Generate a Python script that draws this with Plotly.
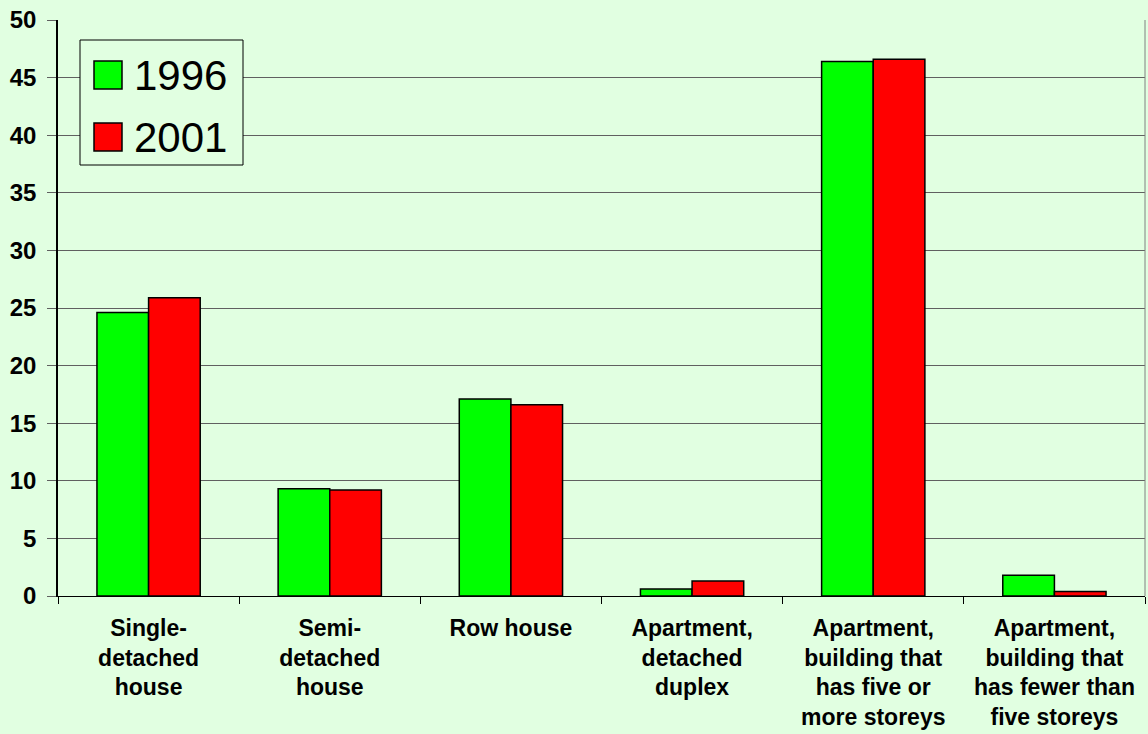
import plotly.graph_objects as go

categories = [
    "Single-<br>detached<br>house",
    "Semi-<br>detached<br>house",
    "Row house",
    "Apartment,<br>detached<br>duplex",
    "Apartment,<br>building that<br>has five or<br>more storeys",
    "Apartment,<br>building that<br>has fewer than<br>five storeys",
]
series_names = ["1996", "2001"]
values_1996 = [24.6, 9.3, 17.1, 0.6, 46.4, 1.8]
values_2001 = [25.9, 9.2, 16.6, 1.3, 46.6, 0.4]
colors = ["#00FF00", "#FF0000"]
y_ticks = [0, 5, 10, 15, 20, 25, 30, 35, 40, 45, 50]

W, H = 1148, 734
L, R, T, B = 58, 3, 20, 138
PW, PH = W - L - R, H - T - B
BG = "#E1FFE1"
FONT = "Liberation Sans, Arial, sans-serif"


def px_x(p):
    return (p - L) / PW


def px_y(p):
    return (H - B - p) / PH


fig = go.Figure()
for name, vals, col in zip(series_names, [values_1996, values_2001], colors):
    fig.add_trace(go.Bar(
        name=name, x=categories, y=vals,
        marker=dict(color=col, line=dict(color="#000000", width=1.5)),
        showlegend=False,
    ))

shapes = [
    # right border of plot area
    dict(type="line", xref="paper", yref="paper", x0=1, x1=1, y0=0, y1=1,
         line=dict(color="#808080", width=1)),
    # legend box
    dict(type="rect", xref="paper", yref="paper",
         x0=px_x(80), x1=px_x(243), y0=px_y(165), y1=px_y(40),
         line=dict(color="#000000", width=1), fillcolor=BG, layer="above"),
]
annotations = []
legend_rows = [(61, 89, 75), (123, 151, 137)]
for (top, bot, mid), name, col in zip(legend_rows, series_names, colors):
    shapes.append(dict(type="rect", xref="paper", yref="paper",
                       x0=px_x(94), x1=px_x(122), y0=px_y(bot), y1=px_y(top),
                       line=dict(color="#000000", width=1.5), fillcolor=col, layer="above"))
    annotations.append(dict(xref="paper", yref="paper", x=px_x(132), y=px_y(mid),
                            xanchor="left", yanchor="middle", text=name, showarrow=False,
                            font=dict(family=FONT, size=42, color="#000000")))

fig.update_layout(
    width=W, height=H,
    margin=dict(l=L, r=R, t=T, b=B, pad=0),
    paper_bgcolor=BG, plot_bgcolor=BG,
    barmode="group", bargap=0.43, bargroupgap=0,
    font=dict(family=FONT, color="#000000"),
    shapes=shapes, annotations=annotations,
    showlegend=False,
)
fig.update_xaxes(
    type="category", tickson="boundaries", ticks="outside", ticklen=7,
    tickcolor="#000000", tickwidth=1,
    showline=True, linecolor="#000000", linewidth=1,
    showgrid=False,
    ticklabelstandoff=11,
    tickfont=dict(family=FONT, size=23, color="#000000", weight="bold"),
)
fig.update_yaxes(
    range=[0, 50], tickvals=y_ticks, ticks="outside", ticklen=9,
    tickcolor="#606060", tickwidth=1,
    showline=True, linecolor="#000000", linewidth=1.5,
    showgrid=True, gridcolor="#606060", gridwidth=1.2,
    zeroline=False,
    ticklabelstandoff=6,
    tickfont=dict(family=FONT, size=24, color="#000000", weight="bold"),
)
fig.write_html(
    "out.html",
    config={"displayModeBar": False},
    post_script="document.body.style.margin='0';document.body.style.overflow='hidden';",
)
